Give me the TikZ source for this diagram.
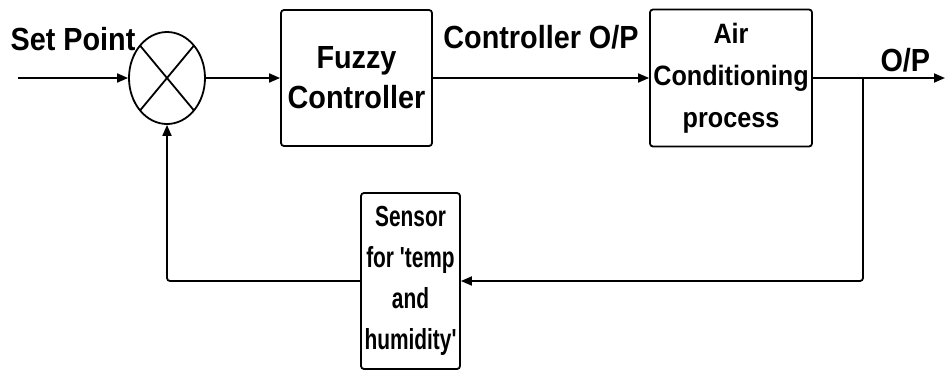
\documentclass[tikz,border=0pt]{standalone}
\usepackage{fontspec}
\setmainfont[FakeStretch=0.9]{Liberation Sans}
\newfontfamily\narrowfont[FakeStretch=0.72]{Liberation Sans}
\usetikzlibrary{arrows.meta,positioning,shapes.geometric}

\begin{document}
\begin{tikzpicture}[
    x=1pt, y=-1pt,
    line width=1.8pt,
    block/.style={draw, rounded corners=3pt, align=center, inner sep=2pt,
        font=\bfseries\fontsize{28}{42}\selectfont},
    tag/.style={font=\bfseries\fontsize{32}{36}\selectfont, inner sep=2pt},
    flow/.style={-{Triangle[length=11pt, width=9pt]}},
]
    \useasboundingbox (0, 0) rectangle (946, 370);

    %% the summing junction and the blocks
    \node[draw, ellipse, minimum width=76pt, minimum height=92pt,
        inner sep=0pt] (sum) at (167, 78) {};
    \draw ([shift={(-27, -32.5)}]sum.center) -- ([shift={(27, 32.5)}]sum.center);
    \draw ([shift={(-27, 32.5)}]sum.center) -- ([shift={(27, -32.5)}]sum.center);
    \node[block, minimum width=151pt, minimum height=136pt,
        font=\bfseries\fontsize{32}{40}\selectfont] (fuzzy) at (356.5, 78)
        {Fuzzy\\Controller};
    \node[block, minimum width=162pt, minimum height=137pt] (plant)
        at (731, 78) {Air\\Conditioning\\process};
    \node[block, minimum width=99pt, minimum height=176pt,
        font=\bfseries\narrowfont\fontsize{29}{41}\selectfont] (sensor)
        at (410.5, 281) {Sensor\\for 'temp\\and\\humidity'};

    %% free ends of the lines
    \coordinate (in) at (18, 78);
    \coordinate (out) at (945, 78);
    \coordinate (tap) at (863, 78);

    %% forward path
    \draw[flow] (in) -- (sum.west)
        node[tag, midway, above=24pt] {Set Point};
    \draw[flow] (sum.east) -- (fuzzy.west);
    \draw[flow] (fuzzy.east) -- (plant.west)
        node[tag, midway, above=26pt] {Controller O/P};
    \draw[flow] (plant.east) -- (out)
        node[tag, pos=.7, above=3pt] {O/P};

    %% feedback path
    \draw[flow, rounded corners=3pt] (tap) |- (sensor.east);
    \draw[flow, rounded corners=3pt] (sensor.west) -| (sum.south);
\end{tikzpicture}
\end{document}
